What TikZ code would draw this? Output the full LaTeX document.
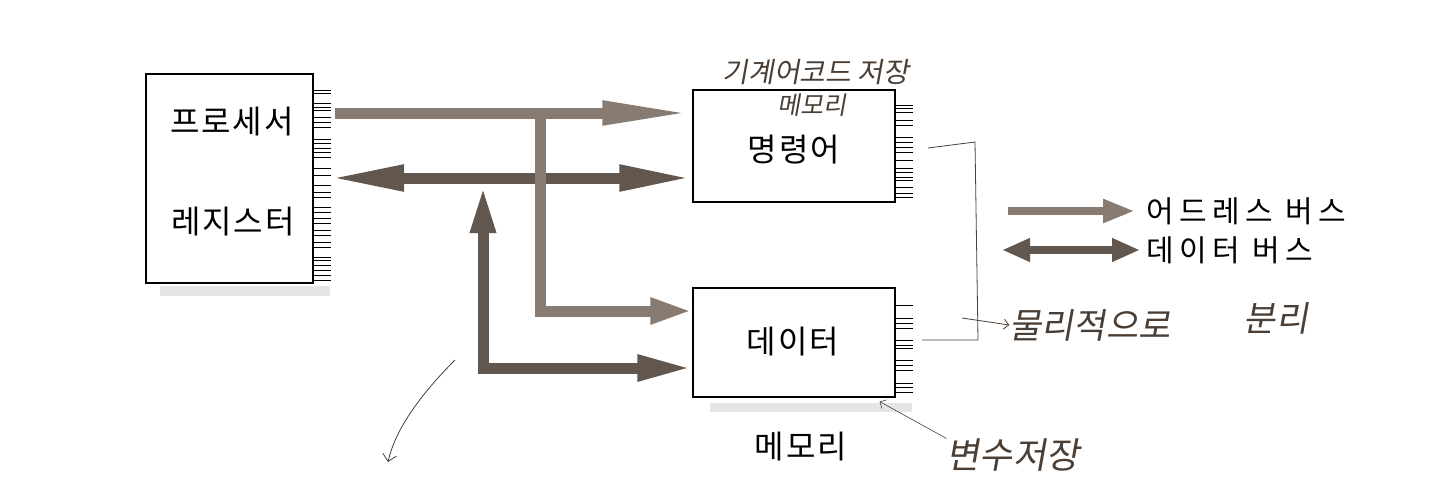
\documentclass[tikz,border=0pt]{standalone}
\usepackage{fontspec}
\setmainfont{Noto Sans CJK KR}
\newfontfamily\handfont[FakeSlant=0.18]{Noto Sans CJK KR}
\usetikzlibrary{arrows.meta,positioning,calc}

\definecolor{abuscol}{HTML}{887C72}
\definecolor{dbuscol}{HTML}{62574F}
\definecolor{penink}{HTML}{4B3F35}

\begin{document}
\begin{tikzpicture}[x=1pt,y=-1pt,
		unit/.style={draw, line width=1.2pt, fill=white, inner sep=0pt},
		boxtext/.style={font=\fontsize{32}{34}\selectfont\addfontfeatures{LetterSpace=6}},
		legtext/.style={anchor=west, font=\fontsize{30}{32}\selectfont\addfontfeatures{LetterSpace=18}},
		abus/.style={draw=abuscol, line width=11pt, line join=miter},
		dbus/.style={draw=dbuscol, line width=11pt, line join=miter},
		pins/.style={line width=0.8pt},
		shade/.style={fill=black!10, draw=none},
		note/.style={text=penink, font=\handfont\fontsize{28}{30}\selectfont, inner sep=0pt}]
		
		\useasboundingbox (0,0) rectangle (1440,491);
		
		% faint print shadows
		\fill[shade] (160,286) rectangle (330,296);
		\fill[shade] (710,403) rectangle (912,412);
		
		% processor and memories
		\node[unit, minimum width=167pt, minimum height=209pt] (proc) at (229.5,178.5) {};
		\node[unit, minimum width=202pt, minimum height=112pt] (inst) at (794,146) {};
		\node[unit, minimum width=202pt, minimum height=109pt] (data) at (794,342.5) {};
		
		\node[boxtext] (proct) at (232,122) {프로세서};
		\node[boxtext] (regt) at (233,222) {레지스터};
		\node[boxtext] (instt) at (794,150) {명령어};
		\node[boxtext] (datat) at (793,342) {데이터};
		\node[boxtext] (memt) at (801,447) {메모리};
		
		% pins
		\foreach \y in {90,93,103,107,110,117,122,127,139,143,148,152,157,168,175,185,192,197,207,212,218,223,230,235,242,247,257,260,265,270,275,280}
			\draw[pins] (proc.east |- 0,\y) -- ++(17,0);
		\foreach \y in {105,108,112,120,125,137,142,147,152,160,168,172,177,180,187,193,197}
			\draw[pins] (inst.east |- 0,\y) -- ++(17,0);
		\foreach \y in {305,318,323,328,340,345,348,360,365,370,383,387,392}
			\draw[pins] (data.east |- 0,\y) -- ++(17,0);
		
		% buses
		\coordinate (abeg) at (335,113);
		\coordinate (dbeg) at (329,178);
		\coordinate (abr) at (540,108);
		\coordinate (dbr) at (483,185);
		
		\draw[dbus, {Triangle[length=75pt,width=24pt]}-{Triangle[length=73pt,width=24pt]}] (dbeg) -- (inst.west |- dbeg);
		\draw[abus, -{Triangle[length=90pt,width=22pt]}] (abeg) -- (inst.west |- abeg);
		\draw[abus, -{Triangle[length=42pt,width=24pt]}] (abr) -- (abr |- 0,311) -- (data.west |- 0,311);
		\draw[dbus, {Triangle[length=48pt,width=23pt]}-{Triangle[length=55pt,width=24pt]}] (dbr) -- (dbr |- 0,368) -- (data.west |- 0,368);
		
		% legend
		\node[legtext] (abt) at (1143,211) {어드레스 버스};
		\node[legtext] (dbt) at (1143,250) {데이터 버스};
		\coordinate (labeg) at (1008,211);
		\coordinate (ldbeg) at (1002,250);
		\draw[abus, line width=8pt, -{Triangle[length=32pt,width=22pt]}] (labeg) -- ([xshift=-8pt]abt.west);
		\draw[dbus, line width=8pt, {Triangle[length=28pt,width=22pt]}-{Triangle[length=28pt,width=22pt]}] (ldbeg) -- ([xshift=-3pt]dbt.west);
		
		% pen notes
		\node[note] (n1) at (816,72) {기계어코드 저장};
		\node[note, font=\handfont\fontsize{25}{27}\selectfont] (n2) at (812,105) {메모리};
		\node[note, font=\handfont\fontsize{35}{37}\selectfont] (n3) at (1090,325) {물리적으로};
		\node[note, font=\handfont\fontsize{35}{37}\selectfont] (n4) at (1276,318) {분리};
		\node[note, font=\handfont\fontsize{36}{38}\selectfont] (n5) at (1013,455) {변수저장};
		
		\coordinate (bk1) at (928,148);
		\coordinate (bk2) at (922,340);
		\draw[penink, line width=0.8pt] (bk1) -- (975,142) -- (978,340) -- (bk2);
		\draw[penink, line width=0.8pt, -{Straight Barb[length=5pt]}] (962,318) -- (n3.west);
		\draw[penink, line width=0.6pt, {Straight Barb[length=5pt]}-] ([xshift=-16pt,yshift=-4pt]data.south east) -- (n5.north west);
		\coordinate (pt1) at (455,360);
		\draw[penink, line width=0.8pt, -{Straight Barb[length=7pt]}] (pt1) .. controls (420,395) and (395,430) .. (388,462);
		
	\end{tikzpicture}
\end{document}
